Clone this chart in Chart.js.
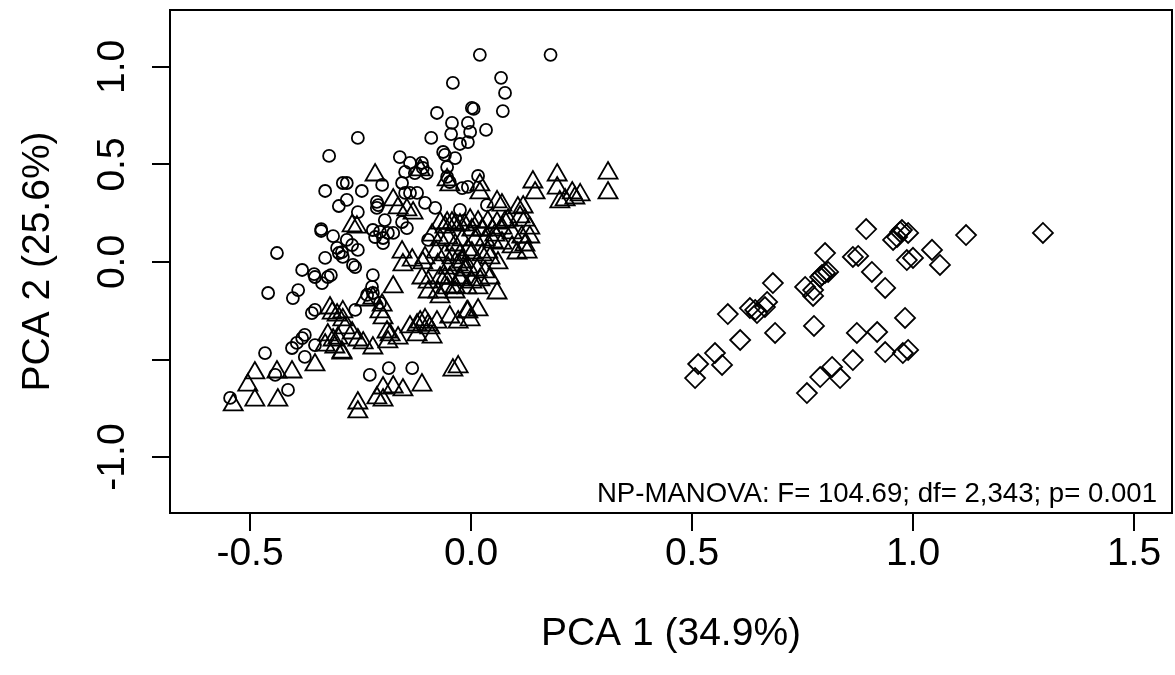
<!DOCTYPE html>
<html>
<head>
<meta charset="utf-8">
<title>PCA</title>
<script src="https://cdn.jsdelivr.net/npm/chart.js@4.4.0/dist/chart.umd.min.js"></script>
<style>
  html, body { margin: 0; padding: 0; background: #fff; }
  #chart { display: block; }
</style>
</head>
<body>
<canvas id="chart" width="1175" height="675"></canvas>
<script>
// group 1 (circles)
const circleX = [0.020, 0.180, -0.041, 0.068, 0.077, 0.002, 0.006, 0.072, -0.077, -0.043,
  -0.007, 0.034, -0.045, -0.002, -0.256, -0.090, -0.025, -0.007, -0.321, -0.330,
  -0.290, -0.299, -0.339, -0.339, -0.312, -0.439, -0.330, -0.303, -0.299, -0.382,
  -0.355, -0.317, -0.161, -0.138, -0.111, -0.109, -0.063, -0.059, -0.036, -0.054,
  -0.149, -0.127, -0.100, -0.054, -0.048, -0.281, -0.201, -0.247, -0.156, -0.020,
  -0.149, -0.138, -0.122, -0.213, -0.210, -0.213, -0.281, -0.104, -0.081, -0.025,
  -0.256, -0.195, -0.156, -0.222, -0.206, -0.188, -0.176, -0.217, -0.199, -0.145,
  -0.199, -0.097, -0.281, -0.269, -0.256, -0.292, -0.290, -0.267, -0.262, -0.222,
  0.016, -0.007, 0.036, -0.459, -0.403, -0.391, -0.337, -0.324, -0.353, -0.360,
  -0.353, -0.405, -0.394, -0.382, -0.376, -0.466, -0.353, -0.376, -0.443, -0.545,
  -0.414, -0.224, -0.235, -0.222, -0.206, -0.262, -0.229, -0.186, -0.133];
const circleY = [1.062, 1.062, 0.918, 0.944, 0.867, 0.790, 0.785, 0.774, 0.764, 0.713,
  0.713, 0.677, 0.656, 0.667, 0.636, 0.636, 0.605, 0.615, 0.544, 0.364,
  0.405, 0.287, 0.169, 0.159, 0.133, 0.046, 0.021, 0.072, 0.046, -0.041,
  -0.062, -0.067, 0.538, 0.508, 0.508, 0.482, 0.564, 0.549, 0.533, 0.487,
  0.462, 0.456, 0.456, 0.436, 0.410, 0.405, 0.395, 0.364, 0.405, 0.379,
  0.354, 0.354, 0.354, 0.308, 0.292, 0.277, 0.318, 0.303, 0.277, 0.267,
  0.256, 0.215, 0.205, 0.164, 0.154, 0.149, 0.149, 0.128, 0.123, 0.174,
  0.097, 0.113, 0.113, 0.087, 0.062, 0.051, 0.026, -0.015, -0.026, -0.067,
  0.441, 0.385, 0.292, -0.159, -0.185, -0.144, -0.108, -0.077, -0.077, -0.262,
  -0.246, -0.441, -0.415, -0.390, -0.374, -0.467, -0.426, -0.487, -0.579, -0.697,
  -0.656, -0.128, -0.169, -0.159, -0.210, -0.246, -0.579, -0.544, -0.544];

// group 2 (triangles)
const triangleX = [-0.217, -0.115, -0.054, -0.048, -0.176, -0.165, -0.145, -0.131, -0.269, -0.258,
  -0.070, -0.054, -0.043, -0.036, -0.025, -0.014, -0.156, -0.133, -0.109, -0.154,
  -0.088, -0.070, -0.052, -0.036, -0.020, -0.079, -0.059, -0.043, -0.025, -0.007,
  -0.075, -0.052, -0.029, -0.014, -0.059, -0.025,
  0.195, 0.310, 0.140, 0.195, 0.020, 0.020, 0.145, 0.229, 0.247, 0.310,
  0.201, 0.213, 0.235, 0.059, 0.070, 0.106, 0.118, -0.002, 0.016, 0.038,
  0.059, 0.077, 0.084, 0.111, 0.122, 0.133, 0.002, 0.025, 0.048, 0.070,
  0.093, 0.115, 0.133, 0.009, 0.032, 0.050, 0.070, 0.093, 0.104, 0.127,
  0.002, 0.025, 0.043, 0.061, -0.007, 0.014, 0.032,
  -0.319, -0.314, -0.303, -0.324, -0.312, -0.301, -0.330, -0.308, -0.292, -0.489,
  -0.439, -0.405, -0.353, -0.505, -0.538, -0.489, -0.437,
  -0.176, -0.240, -0.222, -0.201, -0.206, -0.199, -0.290, -0.290, -0.285, -0.292,
  -0.269, -0.256, -0.244, -0.222, -0.190, -0.183, -0.188, -0.165, -0.138, -0.122,
  -0.115, -0.104, -0.097, -0.093, -0.077, -0.122, -0.088, -0.048, -0.029, -0.009,
  -0.097, -0.070, -0.054, -0.036, -0.009, -0.111, -0.097, -0.070, -0.048, -0.025,
  -0.041, -0.029, -0.199, -0.176, -0.154, -0.111, -0.213, -0.199, -0.256, -0.256,
  0.002, 0.020, 0.043, 0.016, 0.059, -0.007, 0.016, -0.002,
  -0.059, -0.104, -0.020, -0.036, -0.075, 0.122, 0.038, 0.054];
const triangleY = [0.446, 0.472, 0.421, 0.395, 0.318, 0.277, 0.267, 0.251, 0.185, 0.179,
  0.200, 0.200, 0.200, 0.190, 0.190, 0.190, 0.051, 0.010, -0.005, -0.015,
  0.138, 0.113, 0.123, 0.087, 0.113, 0.051, 0.036, 0.021, 0.036, 0.062,
  -0.015, -0.031, -0.015, -0.041, -0.082, -0.082,
  0.446, 0.456, 0.410, 0.379, 0.395, 0.354, 0.354, 0.354, 0.344, 0.354,
  0.308, 0.318, 0.328, 0.308, 0.292, 0.277, 0.282, 0.215, 0.205, 0.205,
  0.200, 0.205, 0.215, 0.231, 0.215, 0.174, 0.164, 0.164, 0.164, 0.174,
  0.149, 0.128, 0.128, 0.113, 0.113, 0.103, 0.097, 0.077, 0.046, 0.051,
  0.046, 0.036, 0.021, -0.005, -0.026, -0.041, -0.051,
  -0.236, -0.262, -0.272, -0.374, -0.400, -0.390, -0.426, -0.436, -0.462, -0.569,
  -0.564, -0.564, -0.528, -0.631, -0.733, -0.708, -0.708,
  -0.128, -0.195, -0.185, -0.221, -0.256, -0.287, -0.256, -0.297, -0.338, -0.467,
  -0.364, -0.400, -0.415, -0.441, -0.359, -0.374, -0.410, -0.390, -0.333, -0.323,
  -0.308, -0.297, -0.323, -0.338, -0.308, -0.374, -0.385, -0.282, -0.308, -0.256,
  -0.154, -0.179, -0.133, -0.128, -0.133, -0.082, -0.103, -0.082, -0.082, -0.092,
  -0.554, -0.538, -0.646, -0.641, -0.656, -0.631, -0.697, -0.708, -0.723, -0.769,
  -0.103, -0.092, -0.082, -0.133, -0.159, -0.256, -0.246, -0.297,
  0.179, 0.021, 0.000, -0.154, -0.154, 0.087, 0.051, 0.138];

// group 3 (diamonds)
const diamondX = [0.801, 0.864, 0.683, 0.801, 0.794, 0.790, 0.808, 0.756, 0.774, 0.774,
  0.581, 0.631, 0.643, 0.647, 0.665, 0.670, 0.609, 0.688, 0.776, 0.552,
  0.568, 0.514, 0.507, 0.817, 0.790, 0.835, 0.760, 0.873, 0.864, 0.894,
  0.975, 0.989, 0.964, 0.971, 0.955, 1.120, 1.294, 0.876, 0.986, 1.000,
  1.043, 1.061, 0.907, 0.937, 0.982, 0.919, 0.937, 0.977, 0.989];
const diamondY = [0.046, 0.026, -0.108, -0.056, -0.067, -0.077, -0.051, -0.128, -0.144, -0.174,
  -0.267, -0.236, -0.246, -0.262, -0.231, -0.205, -0.400, -0.364, -0.328, -0.467,
  -0.528, -0.523, -0.595, -0.538, -0.590, -0.595, -0.672, -0.364, -0.503, 0.169,
  0.164, 0.149, 0.128, 0.154, 0.113, 0.138, 0.149, 0.031, 0.010, 0.021,
  0.062, -0.015, -0.051, -0.133, -0.287, -0.359, -0.462, -0.467, -0.451];

const xTicks = [-0.5, 0, 0.5, 1, 1.5];
const yTicks = [-1, -0.5, 0, 0.5, 1];
const xTitle = "PCA 1 (34.9%)";
const yTitle = "PCA 2 (25.6%)";
const statText = "NP-MANOVA: F= 104.69; df= 2,343; p= 0.001";

const FONT = "'Liberation Sans', Arial, sans-serif";

function pts(xs, ys) {
  return xs.map((x, i) => ({ x: x, y: ys[i] }));
}

function groupSet(xs, ys, style, r) {
  return {
    data: pts(xs, ys),
    pointStyle: style,
    pointRadius: r,
    pointBorderColor: "#000",
    pointBackgroundColor: "rgba(0,0,0,0)",
    pointBorderWidth: 1.8,
    showLine: false,
  };
}

// box round the plot + the test result
const framePlugin = {
  id: "frame",
  afterDatasetsDraw(chart) {
    const { ctx, chartArea: a } = chart;
    ctx.save();
    ctx.strokeStyle = "#000";
    ctx.lineWidth = 2;
    ctx.strokeRect(a.left, a.top, a.right - a.left, a.bottom - a.top);
    ctx.fillStyle = "#000";
    ctx.font = "27.6px " + FONT;
    ctx.textAlign = "right";
    ctx.textBaseline = "alphabetic";
    ctx.fillText(statText, a.right - 15, a.bottom - 11);
    ctx.restore();
  },
};

function fixTicks(list) {
  return (scale) => {
    scale.ticks = list.map((v) => ({ value: v }));
  };
}

const tickFont = { family: FONT, size: 39 };

new Chart(document.getElementById("chart"), {
  type: "scatter",
  data: {
    datasets: [
      groupSet(circleX, circleY, "circle", 6),
      groupSet(triangleX, triangleY, "triangle", 11),
      groupSet(diamondX, diamondY, "rectRot", 10),
    ],
  },
  options: {
    responsive: false,
    animation: false,
    events: [],
    layout: { autoPadding: false, padding: { top: 10, right: 3, left: 0, bottom: 0 } },
    plugins: {
      legend: { display: false },
      tooltip: { enabled: false },
    },
    scales: {
      x: {
        type: "linear",
        min: -0.681,
        max: 1.586,
        afterBuildTicks: fixTicks(xTicks),
        afterFit(scale) {
          scale.height = 162;
          scale.paddingLeft = 0;
          scale.paddingRight = 0;
        },
        border: { display: false },
        grid: {
          drawOnChartArea: false,
          drawTicks: true,
          tickLength: 18,
          color: "#000",
          lineWidth: 2,
        },
        ticks: {
          color: "#000",
          font: tickFont,
          padding: 0,
          maxRotation: 0,
          callback: (v) => v.toFixed(1),
        },
        title: {
          display: true,
          text: xTitle,
          color: "#000",
          font: { family: FONT, size: 39, lineHeight: 1.2 },
          padding: { top: 0, bottom: 17 },
        },
      },
      y: {
        type: "linear",
        min: -1.287,
        max: 1.292,
        afterBuildTicks: fixTicks(yTicks),
        afterFit(scale) {
          scale.width = 170;
          scale.paddingTop = 0;
          scale.paddingBottom = 0;
        },
        border: { display: false },
        grid: {
          drawOnChartArea: false,
          drawTicks: true,
          tickLength: 18,
          color: "#000",
          lineWidth: 2,
        },
        ticks: {
          color: "#000",
          font: tickFont,
          padding: 5,
          minRotation: 90,
          maxRotation: 90,
          crossAlign: "center",
          callback: (v) => (v === -0.5 ? "" : v.toFixed(1)),
        },
        title: {
          display: true,
          text: yTitle,
          color: "#000",
          font: { family: FONT, size: 39, lineHeight: 1.2 },
          padding: { top: 15, bottom: 0 },
        },
      },
    },
  },
  plugins: [framePlugin],
});
</script>
</body>
</html>
